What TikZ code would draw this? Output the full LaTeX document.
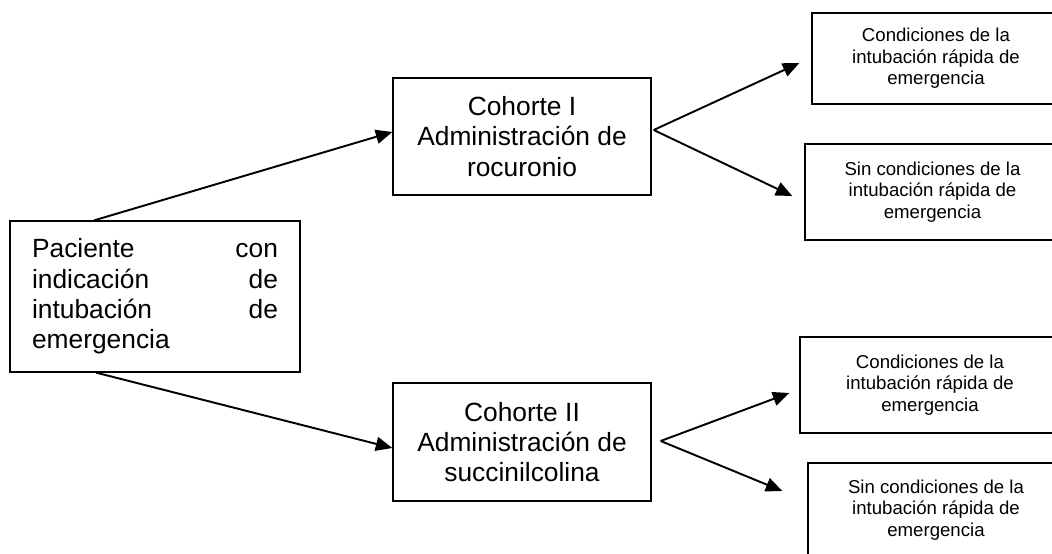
\documentclass[tikz,border=0pt]{standalone}
\usepackage{fontspec}
\setmainfont{Liberation Sans}
\usetikzlibrary{arrows.meta}
\tikzset{
  bigbox/.style={draw, line width=0.8pt, align=center, font=\fontsize{15}{17.3}\selectfont},
  smallbox/.style={draw, line width=0.8pt, align=center, font=\fontsize{10.6}{12.2}\selectfont},
  arr/.style={line width=1.1pt, -{Triangle[length=0.33cm,width=0.28cm]}}
}

\begin{document}
\begin{tikzpicture}[x=0.02cm,y=-0.02cm]
  \useasboundingbox (0,0) rectangle (1052,554);
  \clip (0,0) rectangle (1052,554);
  % patient and the two cohorts
  \node[bigbox, align=justify, text width=4.92cm, minimum width=5.8cm, minimum height=3.02cm] (pac) at (155,296.5)
    {Paciente\hfill con\\ indicación\hfill de\\ intubación\hfill de\\ emergencia};
  \node[bigbox, minimum width=5.16cm, minimum height=2.34cm] (coh1) at (522,136.5)
    {Cohorte I\\ Administración de\\ rocuronio};
  \node[bigbox, minimum width=5.16cm, minimum height=2.36cm] (coh2) at (522,442)
    {Cohorte II\\ Administración de\\ succinilcolina};
  % outcomes, cut at the right edge
  \node[smallbox, minimum width=4.96cm, minimum height=1.82cm] (cond1) at (936,58.5)
    {Condiciones de la\\ intubación rápida de\\ emergencia};
  \node[smallbox, minimum width=5.1cm, minimum height=1.92cm] (sin1) at (932.5,192)
    {Sin condiciones de la\\ intubación rápida de\\ emergencia};
  \node[smallbox, minimum width=5.2cm, minimum height=1.92cm] (cond2) at (930,385)
    {Condiciones de la\\ intubación rápida de\\ emergencia};
  \node[smallbox, minimum width=5.12cm, minimum height=1.88cm] (sin2) at (936,510)
    {Sin condiciones de la\\ intubación rápida de\\ emergencia};
  % arrows
  \draw[arr] ([xshift=1.7cm]pac.north west) -- ([yshift=0.09cm]coh1.west);
  \draw[arr] ([xshift=1.74cm]pac.south west) -- ([yshift=-0.12cm]coh2.west);
  \draw[arr] ([xshift=0.04cm,yshift=0.13cm]coh1.east) -- ([xshift=-0.24cm,yshift=-0.09cm]cond1.west);
  \draw[arr] ([xshift=0.04cm,yshift=0.13cm]coh1.east) -- ([xshift=-0.24cm,yshift=-0.08cm]sin1.west);
  \draw[arr] ([xshift=0.18cm,yshift=0.02cm]coh2.east) -- ([xshift=-0.2cm,yshift=-0.16cm]cond2.west);
  \draw[arr] ([xshift=0.18cm,yshift=0.02cm]coh2.east) -- ([xshift=-0.5cm,yshift=0.38cm]sin2.west);
\end{tikzpicture}
\end{document}
